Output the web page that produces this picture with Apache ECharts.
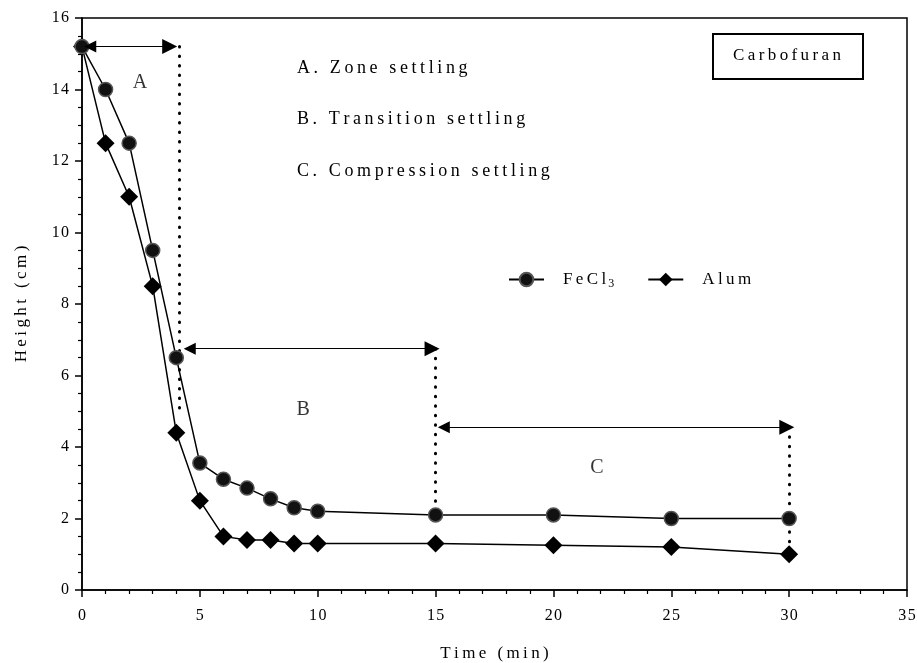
<!DOCTYPE html>
<html>
<head>
<meta charset="utf-8">
<script src="https://cdn.jsdelivr.net/npm/echarts@6/dist/echarts.min.js"></script>
<style>html,body{margin:0;padding:0;background:#fff}#c{width:917px;height:663px}</style>
</head>
<body>
<div id="c"></div>
<script>
// ---- data ----
const timeMin = [0, 1, 2, 3, 4, 5, 6, 7, 8, 9, 10, 15, 20, 25, 30];
const fecl3 = [15.2, 14, 12.5, 9.5, 6.5, 3.55, 3.1, 2.85, 2.55, 2.3, 2.2, 2.1, 2.1, 2.0, 2.0];
const alum = [15.2, 12.5, 11, 8.5, 4.4, 2.5, 1.5, 1.4, 1.4, 1.3, 1.3, 1.3, 1.25, 1.2, 1.0];
const seriesNames = ['FeCl3', 'Alum'];
const xTicks = [0, 5, 10, 15, 20, 25, 30, 35];
const yTicks = [0, 2, 4, 6, 8, 10, 12, 14, 16];
// region arrows (double headed) [x1,y1,x2,y2]
const arrowSegs = [[0.35, 15.2, 3.72, 15.2], [4.57, 6.75, 14.85, 6.75], [15.35, 4.55, 29.9, 4.55]];
// dotted boundaries [x1,y1,x2,y2]
const dotSegs = [[4.12, 15.2, 4.12, 4.9], [15, 6.75, 15, 2.1], [30, 4.55, 30, 1.0]];
const regionLabels = [['A', 2.46, 14.18], ['B', 9.38, 5.03], ['C', 21.85, 3.41]];
const notes = ['A. Zone settling', 'B. Transition settling', 'C. Compression settling'];
const boxTitle = 'Carbofuran';
const xName = 'Time (min)';
const yName = 'Height (cm)';

const FONT = '"Liberation Serif","Times New Roman",serif';
const sp = s => String(s).split('').join('\u2009');
const sp2 = s => String(s).split('').join('\u200A');

const chart = echarts.init(document.getElementById('c'), null, {renderer: 'canvas'});

const pairs = arr => timeMin.map((t, i) => [t, arr[i]]);

const option = {
  animation: false,
  backgroundColor: '#fff',
  grid: {left: 82, right: 10, top: 18, bottom: 73, outerBoundsMode: 'none', containLabel: false,
    show: true, borderColor: '#000', borderWidth: 1.5, backgroundColor: 'transparent'},
  xAxis: {
    type: 'value', min: 0, max: 35, interval: 5,
    name: sp(xName), nameLocation: 'middle', nameGap: 55,
    nameTextStyle: {fontFamily: FONT, fontSize: 17, color: '#000'},
    axisLine: {lineStyle: {color: '#000', width: 1.5}},
    axisTick: {show: true, inside: false, length: 7, lineStyle: {color: '#000', width: 1.5}},
    minorTick: {show: true, splitNumber: 5, length: 4, lineStyle: {color: '#000', width: 1.2}},
    splitLine: {show: false},
    axisLabel: {fontFamily: FONT, fontSize: 16, color: '#000', margin: 18, formatter: v => sp2(v)}
  },
  yAxis: {
    type: 'value', min: 0, max: 16, interval: 2,
    name: sp(yName), nameLocation: 'middle', nameGap: 52, nameRotate: 90,
    nameTextStyle: {fontFamily: FONT, fontSize: 17, color: '#000'},
    axisLine: {lineStyle: {color: '#000', width: 1.5}},
    axisTick: {show: true, inside: false, length: 7, lineStyle: {color: '#000', width: 1.5}},
    minorTick: {show: true, splitNumber: 4, length: 4, lineStyle: {color: '#000', width: 1.2}},
    splitLine: {show: false},
    axisLabel: {fontFamily: FONT, fontSize: 16, color: '#000', margin: 13, formatter: v => sp2(v)}
  },
  legend: {
    left: 503, top: 266, itemWidth: 35, itemHeight: 17, itemGap: 33,
    data: seriesNames,
    formatter: n => n === 'FeCl3' ? '{a|' + sp('FeCl') + '}{s|3}' : '{a|' + sp(n) + '}',
    textStyle: {
      fontFamily: FONT, fontSize: 16, color: '#000', padding: [0, 0, 0, 14],
      rich: {
        a: {fontFamily: FONT, fontSize: 17, color: '#000'},
        s: {fontFamily: FONT, fontSize: 12, color: '#000', verticalAlign: 'bottom', padding: [8, 0, 0, 2]}
      }
    }
  },
  series: [
    {
      name: 'Alum', type: 'line', data: pairs(alum),
      symbol: 'diamond', symbolSize: 18,
      lineStyle: {color: '#000', width: 1.5},
      itemStyle: {color: '#000', borderColor: '#000', borderWidth: 0},
      z: 3
    },
    {
      name: 'FeCl3', type: 'line', data: pairs(fecl3),
      symbol: 'circle', symbolSize: 14,
      lineStyle: {color: '#000', width: 1.5},
      itemStyle: {color: '#111', borderColor: '#555', borderWidth: 1.5},
      z: 4
    },
    {
      type: 'lines', coordinateSystem: 'cartesian2d', silent: true,
      symbol: ['none', 'none'],
      lineStyle: {color: '#000', width: 3, type: [0.5, 9], cap: 'round', opacity: 1},
      data: dotSegs.map(s => ({coords: [[s[0], s[1]], [s[2], s[3]]]})),
      z: 2
    },
    {
      type: 'lines', coordinateSystem: 'cartesian2d', silent: true,
      symbol: ['triangle', 'triangle'], symbolSize: [12, 15],
      lineStyle: {color: '#000', width: 1.2, opacity: 1},
      data: arrowSegs.map(s => ({coords: [[s[0], s[1]], [s[2], s[3]]]})),
      z: 5
    },
    {
      type: 'scatter', silent: true, symbolSize: 1, itemStyle: {color: 'rgba(0,0,0,0)'},
      data: regionLabels.map(r => ({name: r[0], value: [r[1], r[2]]})),
      label: {show: true, position: 'inside', formatter: p => p.name, fontFamily: FONT, fontSize: 20, color: '#000'},
      z: 6
    }
  ],
  graphic: [
    ...notes.map((t, i) => ({
      type: 'text', left: 297, top: 59 + i * 51.5, silent: true,
      style: {text: sp(t), font: '18px ' + FONT, fill: '#000'}
    })),
    {
      type: 'rect', left: 712, top: 33, silent: true,
      shape: {width: 150, height: 45},
      style: {fill: '#fff', stroke: '#000', lineWidth: 2}
    },
    {
      type: 'text', x: 787, y: 56, silent: true,
      style: {text: sp(boxTitle), font: '17px ' + FONT, fill: '#000', align: 'center', verticalAlign: 'middle'}
    }
  ]
};
chart.setOption(option);
</script>
</body>
</html>
